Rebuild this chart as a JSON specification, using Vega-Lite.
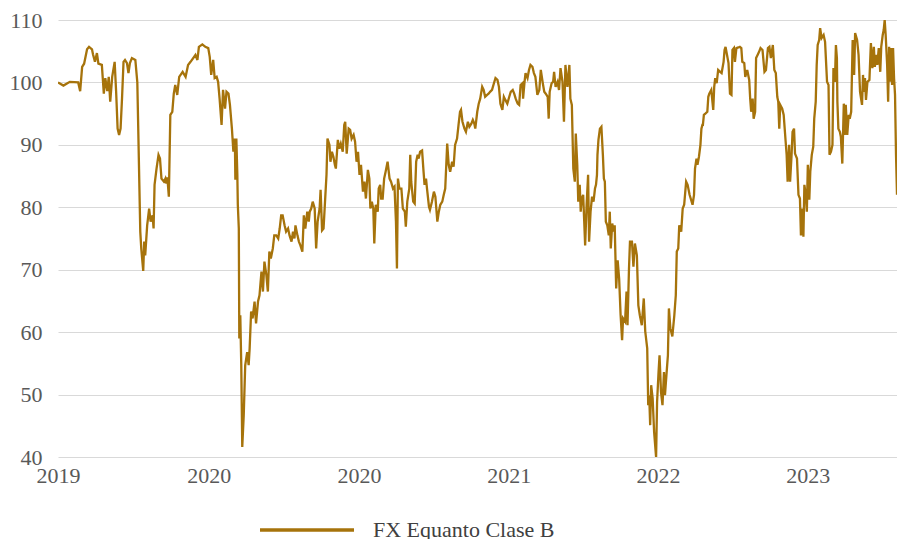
{
"$schema": "https://vega.github.io/schema/vega-lite/v6.json",
"autosize": {"type": "none"},
"width": 839,
"height": 437,
"padding": {"left": 58, "top": 20, "right": 0, "bottom": 82},
"background": "white",
"config": {"view": {"stroke": null}},
"data": {"values": [
{"d":"2019-03-01","v":100.0},{"d":"2019-03-12","v":99.5},{"d":"2019-03-25","v":100.1},{"d":"2019-04-11","v":100.0},{"d":"2019-04-15","v":98.6},{"d":"2019-04-19","v":102.5},{"d":"2019-04-23","v":103.0},{"d":"2019-04-29","v":105.3},{"d":"2019-05-03","v":105.7},{"d":"2019-05-09","v":105.3},{"d":"2019-05-11","v":104.5},{"d":"2019-05-15","v":103.3},{"d":"2019-05-19","v":104.7},{"d":"2019-05-22","v":103.0},{"d":"2019-05-29","v":102.8},
{"d":"2019-06-02","v":98.2},{"d":"2019-06-05","v":100.7},{"d":"2019-06-09","v":98.6},{"d":"2019-06-12","v":100.9},{"d":"2019-06-15","v":96.9},{"d":"2019-06-19","v":100.9},{"d":"2019-06-24","v":103.3},{"d":"2019-06-27","v":98.5},{"d":"2019-06-30","v":92.6},{"d":"2019-07-03","v":91.6},{"d":"2019-07-06","v":92.6},{"d":"2019-07-09","v":97.5},{"d":"2019-07-12","v":103.3},{"d":"2019-07-15","v":103.6},{"d":"2019-07-19","v":103.1},{"d":"2019-07-22","v":101.5},{"d":"2019-07-25","v":103.1},{"d":"2019-07-29","v":103.9},
{"d":"2019-08-05","v":103.6},{"d":"2019-08-09","v":100.0},{"d":"2019-08-11","v":92.1},{"d":"2019-08-13","v":84.1},{"d":"2019-08-15","v":76.1},{"d":"2019-08-17","v":73.4},{"d":"2019-08-21","v":69.8},{"d":"2019-08-23","v":74.5},{"d":"2019-08-25","v":72.3},{"d":"2019-08-29","v":77.1},{"d":"2019-09-02","v":79.8},{"d":"2019-09-05","v":77.7},{"d":"2019-09-09","v":78.7},{"d":"2019-09-11","v":76.6},{"d":"2019-09-13","v":83.6},{"d":"2019-09-17","v":86.2},{"d":"2019-09-21","v":88.4},{"d":"2019-09-24","v":87.8},{"d":"2019-09-27","v":84.6},
{"d":"2019-10-02","v":84.1},{"d":"2019-10-05","v":84.6},{"d":"2019-10-07","v":83.8},{"d":"2019-10-09","v":84.8},{"d":"2019-10-12","v":81.7},{"d":"2019-10-15","v":94.8},{"d":"2019-10-19","v":95.3},{"d":"2019-10-22","v":98.2},{"d":"2019-10-25","v":99.6},{"d":"2019-10-29","v":98.0},{"d":"2019-11-02","v":100.9},{"d":"2019-11-09","v":101.7},{"d":"2019-11-15","v":100.9},{"d":"2019-11-20","v":102.8},{"d":"2019-11-25","v":103.3},
{"d":"2019-12-05","v":104.4},{"d":"2019-12-09","v":103.6},{"d":"2019-12-12","v":105.7},{"d":"2019-12-19","v":106.1},{"d":"2019-12-25","v":105.7},{"d":"2019-12-31","v":105.5},{"d":"2020-01-03","v":104.1},{"d":"2020-01-06","v":101.2},{"d":"2020-01-10","v":103.6},{"d":"2020-01-13","v":100.7},{"d":"2020-01-17","v":100.9},{"d":"2020-01-20","v":100.1},{"d":"2020-01-23","v":97.4},{"d":"2020-01-27","v":93.2},{"d":"2020-01-30","v":98.8},
{"d":"2020-02-03","v":95.8},{"d":"2020-02-06","v":98.5},{"d":"2020-02-10","v":98.2},{"d":"2020-02-13","v":96.4},{"d":"2020-02-17","v":92.6},{"d":"2020-02-20","v":88.9},{"d":"2020-02-23","v":91.0},{"d":"2020-02-24","v":84.4},{"d":"2020-02-26","v":91.0},{"d":"2020-02-28","v":85.2},{"d":"2020-02-29","v":80.4},
{"d":"2020-03-02","v":76.6},{"d":"2020-03-03","v":59.0},{"d":"2020-03-05","v":62.7},{"d":"2020-03-07","v":54.7},{"d":"2020-03-09","v":41.6},{"d":"2020-03-12","v":46.7},{"d":"2020-03-15","v":54.7},{"d":"2020-03-19","v":56.8},{"d":"2020-03-22","v":54.7},{"d":"2020-03-24","v":57.4},{"d":"2020-03-27","v":63.3},{"d":"2020-03-30","v":62.2},
{"d":"2020-04-03","v":64.9},{"d":"2020-04-06","v":61.4},{"d":"2020-04-10","v":64.9},{"d":"2020-04-13","v":65.9},{"d":"2020-04-17","v":69.7},{"d":"2020-04-20","v":66.5},{"d":"2020-04-23","v":71.3},{"d":"2020-04-27","v":69.1},{"d":"2020-04-30","v":66.5},
{"d":"2020-05-03","v":72.9},{"d":"2020-05-06","v":71.8},{"d":"2020-05-10","v":73.4},{"d":"2020-05-13","v":75.5},{"d":"2020-05-17","v":75.5},{"d":"2020-05-21","v":75.0},{"d":"2020-05-24","v":76.6},{"d":"2020-05-27","v":78.7},{"d":"2020-05-30","v":78.7},
{"d":"2020-06-03","v":77.1},{"d":"2020-06-06","v":76.1},{"d":"2020-06-10","v":76.6},{"d":"2020-06-13","v":75.5},{"d":"2020-06-17","v":74.5},{"d":"2020-06-20","v":76.1},{"d":"2020-06-23","v":75.0},{"d":"2020-06-25","v":77.1},{"d":"2020-06-29","v":75.5},
{"d":"2020-07-02","v":74.5},{"d":"2020-07-05","v":73.9},{"d":"2020-07-09","v":72.9},{"d":"2020-07-12","v":78.7},{"d":"2020-07-15","v":76.6},{"d":"2020-07-19","v":79.3},{"d":"2020-07-22","v":77.7},{"d":"2020-07-24","v":79.3},{"d":"2020-07-27","v":79.8},{"d":"2020-07-30","v":80.9},
{"d":"2020-08-03","v":79.8},{"d":"2020-08-06","v":73.4},{"d":"2020-08-09","v":77.7},{"d":"2020-08-13","v":79.8},{"d":"2020-08-15","v":82.8},{"d":"2020-08-18","v":76.3},{"d":"2020-08-21","v":76.6},{"d":"2020-08-24","v":80.9},{"d":"2020-08-27","v":85.2},{"d":"2020-08-29","v":91.0},
{"d":"2020-09-02","v":90.0},{"d":"2020-09-04","v":87.3},{"d":"2020-09-07","v":88.9},{"d":"2020-09-10","v":88.1},{"d":"2020-09-13","v":86.8},{"d":"2020-09-15","v":86.2},{"d":"2020-09-19","v":90.8},{"d":"2020-09-22","v":89.4},{"d":"2020-09-25","v":90.2},{"d":"2020-09-29","v":88.9},
{"d":"2020-10-02","v":93.2},{"d":"2020-10-04","v":93.7},{"d":"2020-10-07","v":88.6},{"d":"2020-10-11","v":92.6},{"d":"2020-10-14","v":92.4},{"d":"2020-10-17","v":91.0},{"d":"2020-10-21","v":91.6},{"d":"2020-10-24","v":90.5},{"d":"2020-10-27","v":87.3},{"d":"2020-10-30","v":88.9},
{"d":"2020-11-02","v":85.2},{"d":"2020-11-05","v":86.8},{"d":"2020-11-09","v":82.5},{"d":"2020-11-12","v":84.1},{"d":"2020-11-15","v":81.4},{"d":"2020-11-19","v":86.0},{"d":"2020-11-22","v":84.6},{"d":"2020-11-24","v":79.8},{"d":"2020-11-27","v":80.9},{"d":"2020-11-30","v":79.8},
{"d":"2020-12-02","v":74.2},{"d":"2020-12-05","v":80.4},{"d":"2020-12-09","v":79.3},{"d":"2020-12-11","v":83.0},{"d":"2020-12-14","v":83.6},{"d":"2020-12-16","v":81.4},{"d":"2020-12-19","v":81.4},{"d":"2020-12-22","v":84.6},{"d":"2020-12-25","v":85.7},{"d":"2020-12-29","v":87.3},
{"d":"2021-01-02","v":84.6},{"d":"2021-01-05","v":84.1},{"d":"2021-01-09","v":83.0},{"d":"2021-01-12","v":83.3},{"d":"2021-01-15","v":77.7},{"d":"2021-01-17","v":70.2},{"d":"2021-01-19","v":84.6},{"d":"2021-01-22","v":83.0},{"d":"2021-01-26","v":83.0},{"d":"2021-01-29","v":79.8},
{"d":"2021-02-02","v":79.3},{"d":"2021-02-04","v":76.9},{"d":"2021-02-07","v":80.9},{"d":"2021-02-11","v":83.0},{"d":"2021-02-13","v":88.4},{"d":"2021-02-15","v":84.1},{"d":"2021-02-19","v":80.9},{"d":"2021-02-22","v":80.6},{"d":"2021-02-25","v":87.3},{"d":"2021-02-28","v":88.4},
{"d":"2021-03-02","v":87.8},{"d":"2021-03-05","v":88.9},{"d":"2021-03-09","v":89.1},{"d":"2021-03-12","v":85.7},{"d":"2021-03-14","v":83.6},{"d":"2021-03-17","v":84.6},{"d":"2021-03-19","v":83.0},{"d":"2021-03-23","v":80.1},{"d":"2021-03-25","v":79.6},{"d":"2021-03-29","v":80.9},
{"d":"2021-04-02","v":82.5},{"d":"2021-04-05","v":81.7},{"d":"2021-04-09","v":77.7},{"d":"2021-04-12","v":79.3},{"d":"2021-04-15","v":80.4},{"d":"2021-04-19","v":80.9},{"d":"2021-04-22","v":82.0},{"d":"2021-04-25","v":83.0},{"d":"2021-04-29","v":90.2},
{"d":"2021-05-02","v":86.8},{"d":"2021-05-05","v":85.7},{"d":"2021-05-09","v":87.3},{"d":"2021-05-12","v":86.5},{"d":"2021-05-15","v":90.0},{"d":"2021-05-19","v":91.0},{"d":"2021-05-22","v":93.2},{"d":"2021-05-25","v":95.3},{"d":"2021-05-27","v":95.6},{"d":"2021-05-30","v":93.7},
{"d":"2021-06-03","v":92.6},{"d":"2021-06-06","v":92.1},{"d":"2021-06-10","v":93.7},{"d":"2021-06-13","v":92.9},{"d":"2021-06-17","v":93.4},{"d":"2021-06-20","v":94.0},{"d":"2021-06-23","v":93.4},{"d":"2021-06-25","v":92.6},{"d":"2021-06-29","v":95.3},
{"d":"2021-07-02","v":96.6},{"d":"2021-07-05","v":97.4},{"d":"2021-07-09","v":99.3},{"d":"2021-07-12","v":98.8},{"d":"2021-07-15","v":97.7},{"d":"2021-07-19","v":98.0},{"d":"2021-07-22","v":98.2},{"d":"2021-07-25","v":98.5},{"d":"2021-07-29","v":98.8},
{"d":"2021-08-02","v":99.9},{"d":"2021-08-05","v":100.7},{"d":"2021-08-09","v":100.4},{"d":"2021-08-12","v":99.3},{"d":"2021-08-15","v":96.6},{"d":"2021-08-19","v":95.6},{"d":"2021-08-22","v":97.7},{"d":"2021-08-25","v":97.2},{"d":"2021-08-29","v":96.6},
{"d":"2021-09-02","v":97.7},{"d":"2021-09-05","v":98.5},{"d":"2021-09-09","v":98.8},{"d":"2021-09-12","v":98.2},{"d":"2021-09-15","v":97.4},{"d":"2021-09-19","v":96.6},{"d":"2021-09-22","v":96.4},{"d":"2021-09-25","v":99.6},{"d":"2021-09-29","v":99.9},{"d":"2021-09-30","v":97.4},
{"d":"2021-10-03","v":100.1},{"d":"2021-10-05","v":101.5},{"d":"2021-10-09","v":100.7},{"d":"2021-10-12","v":102.0},{"d":"2021-10-15","v":102.8},{"d":"2021-10-19","v":102.5},{"d":"2021-10-22","v":101.5},{"d":"2021-10-25","v":100.9},{"d":"2021-10-29","v":98.0},
{"d":"2021-11-02","v":98.8},{"d":"2021-11-05","v":102.0},{"d":"2021-11-09","v":99.9},{"d":"2021-11-12","v":98.5},{"d":"2021-11-15","v":98.2},{"d":"2021-11-19","v":97.7},{"d":"2021-11-21","v":94.2},{"d":"2021-11-23","v":98.5},{"d":"2021-11-27","v":99.9},{"d":"2021-11-30","v":100.1},
{"d":"2021-12-02","v":101.7},{"d":"2021-12-05","v":99.3},{"d":"2021-12-09","v":100.1},{"d":"2021-12-12","v":98.8},{"d":"2021-12-15","v":102.3},{"d":"2021-12-19","v":100.1},{"d":"2021-12-22","v":93.7},{"d":"2021-12-25","v":102.8},{"d":"2021-12-29","v":99.3},
{"d":"2022-01-02","v":102.8},{"d":"2022-01-04","v":97.4},{"d":"2022-01-07","v":96.4},{"d":"2022-01-10","v":86.2},{"d":"2022-01-13","v":84.1},{"d":"2022-01-15","v":91.8},{"d":"2022-01-18","v":86.8},{"d":"2022-01-20","v":80.9},{"d":"2022-01-23","v":83.6},{"d":"2022-01-25","v":79.3},{"d":"2022-01-27","v":81.4},{"d":"2022-01-30","v":82.0},
{"d":"2022-02-03","v":73.9},{"d":"2022-02-06","v":80.4},{"d":"2022-02-09","v":85.2},{"d":"2022-02-11","v":74.5},{"d":"2022-02-14","v":79.3},{"d":"2022-02-17","v":81.7},{"d":"2022-02-20","v":80.9},{"d":"2022-02-23","v":83.0},{"d":"2022-02-25","v":83.6},{"d":"2022-02-27","v":85.2},{"d":"2022-02-28","v":88.4},
{"d":"2022-03-02","v":90.8},{"d":"2022-03-05","v":92.6},{"d":"2022-03-08","v":92.9},{"d":"2022-03-11","v":88.4},{"d":"2022-03-13","v":84.6},{"d":"2022-03-15","v":84.1},{"d":"2022-03-17","v":77.7},{"d":"2022-03-20","v":77.1},{"d":"2022-03-23","v":75.5},{"d":"2022-03-25","v":79.3},{"d":"2022-03-27","v":73.4},{"d":"2022-03-30","v":77.4},
{"d":"2022-04-02","v":76.1},{"d":"2022-04-04","v":77.1},{"d":"2022-04-07","v":67.0},{"d":"2022-04-10","v":71.5},{"d":"2022-04-13","v":68.6},{"d":"2022-04-16","v":62.7},{"d":"2022-04-19","v":58.7},{"d":"2022-04-21","v":62.2},{"d":"2022-04-25","v":61.7},{"d":"2022-04-28","v":66.5},{"d":"2022-04-30","v":61.1},
{"d":"2022-05-03","v":70.2},{"d":"2022-05-05","v":74.5},{"d":"2022-05-09","v":74.5},{"d":"2022-05-12","v":70.5},{"d":"2022-05-15","v":74.2},{"d":"2022-05-19","v":72.3},{"d":"2022-05-22","v":64.3},{"d":"2022-05-25","v":62.7},{"d":"2022-05-29","v":61.1},
{"d":"2022-06-02","v":65.4},{"d":"2022-06-05","v":60.1},{"d":"2022-06-09","v":57.4},{"d":"2022-06-11","v":48.3},{"d":"2022-06-13","v":49.9},{"d":"2022-06-15","v":45.1},{"d":"2022-06-17","v":51.5},{"d":"2022-06-20","v":49.4},{"d":"2022-06-23","v":44.0},{"d":"2022-06-27","v":40.0},{"d":"2022-06-29","v":48.8},
{"d":"2022-07-02","v":53.6},{"d":"2022-07-04","v":56.3},{"d":"2022-07-07","v":50.4},{"d":"2022-07-10","v":48.3},{"d":"2022-07-13","v":53.6},{"d":"2022-07-15","v":49.9},{"d":"2022-07-19","v":54.2},{"d":"2022-07-21","v":56.3},{"d":"2022-07-23","v":63.8},{"d":"2022-07-26","v":60.6},{"d":"2022-07-30","v":59.3},
{"d":"2022-08-03","v":62.7},{"d":"2022-08-06","v":65.9},{"d":"2022-08-08","v":72.9},{"d":"2022-08-11","v":73.4},{"d":"2022-08-13","v":77.1},{"d":"2022-08-17","v":76.1},{"d":"2022-08-20","v":79.8},{"d":"2022-08-23","v":80.4},{"d":"2022-08-27","v":84.1},{"d":"2022-08-30","v":83.6},
{"d":"2022-09-03","v":82.0},{"d":"2022-09-06","v":81.2},{"d":"2022-09-09","v":80.4},{"d":"2022-09-12","v":82.0},{"d":"2022-09-14","v":86.2},{"d":"2022-09-17","v":87.8},{"d":"2022-09-19","v":86.8},{"d":"2022-09-22","v":88.1},{"d":"2022-09-25","v":90.0},{"d":"2022-09-27","v":92.6},{"d":"2022-09-29","v":93.2},{"d":"2022-09-30","v":93.2},
{"d":"2022-10-02","v":94.8},{"d":"2022-10-05","v":95.0},{"d":"2022-10-09","v":95.3},{"d":"2022-10-11","v":97.7},{"d":"2022-10-13","v":98.2},{"d":"2022-10-17","v":98.8},{"d":"2022-10-19","v":97.2},{"d":"2022-10-21","v":95.6},{"d":"2022-10-23","v":99.3},{"d":"2022-10-25","v":100.7},{"d":"2022-10-28","v":99.9},{"d":"2022-10-31","v":102.0},
{"d":"2022-11-04","v":101.7},{"d":"2022-11-07","v":101.5},{"d":"2022-11-11","v":103.3},{"d":"2022-11-13","v":105.2},{"d":"2022-11-15","v":105.7},{"d":"2022-11-18","v":104.4},{"d":"2022-11-21","v":103.1},{"d":"2022-11-24","v":98.2},{"d":"2022-11-27","v":98.0},{"d":"2022-11-29","v":105.2},
{"d":"2022-12-02","v":105.5},{"d":"2022-12-04","v":103.3},{"d":"2022-12-07","v":105.5},{"d":"2022-12-11","v":105.6},{"d":"2022-12-14","v":105.7},{"d":"2022-12-17","v":105.5},{"d":"2022-12-19","v":103.3},{"d":"2022-12-23","v":103.1},{"d":"2022-12-25","v":100.9},{"d":"2022-12-29","v":102.0},
{"d":"2023-01-02","v":100.4},{"d":"2023-01-04","v":97.4},{"d":"2023-01-06","v":95.3},{"d":"2023-01-09","v":97.4},{"d":"2023-01-11","v":94.2},{"d":"2023-01-14","v":95.3},{"d":"2023-01-16","v":103.9},{"d":"2023-01-19","v":104.4},{"d":"2023-01-22","v":104.9},{"d":"2023-01-25","v":105.5},{"d":"2023-01-29","v":105.2},
{"d":"2023-02-02","v":101.7},{"d":"2023-02-05","v":102.0},{"d":"2023-02-09","v":105.5},{"d":"2023-02-12","v":105.7},{"d":"2023-02-15","v":103.9},{"d":"2023-02-19","v":106.0},{"d":"2023-02-22","v":102.0},{"d":"2023-02-25","v":101.5},{"d":"2023-02-28","v":97.7},
{"d":"2023-03-02","v":96.9},{"d":"2023-03-04","v":92.6},{"d":"2023-03-06","v":96.4},{"d":"2023-03-10","v":95.8},{"d":"2023-03-13","v":94.8},{"d":"2023-03-17","v":90.5},{"d":"2023-03-19","v":88.4},{"d":"2023-03-21","v":84.1},{"d":"2023-03-24","v":90.0},{"d":"2023-03-26","v":84.1},{"d":"2023-03-29","v":88.4},{"d":"2023-03-31","v":92.1},
{"d":"2023-04-03","v":92.6},{"d":"2023-04-05","v":88.6},{"d":"2023-04-09","v":87.8},{"d":"2023-04-12","v":82.0},{"d":"2023-04-15","v":81.4},{"d":"2023-04-17","v":75.5},{"d":"2023-04-20","v":79.8},{"d":"2023-04-22","v":75.3},{"d":"2023-04-24","v":83.6},{"d":"2023-04-27","v":82.0},{"d":"2023-04-29","v":79.3},
{"d":"2023-05-01","v":86.8},{"d":"2023-05-04","v":81.2},{"d":"2023-05-06","v":85.7},{"d":"2023-05-09","v":88.4},{"d":"2023-05-12","v":89.7},{"d":"2023-05-14","v":94.2},{"d":"2023-05-17","v":96.9},{"d":"2023-05-19","v":102.8},{"d":"2023-05-21","v":106.0},{"d":"2023-05-24","v":106.8},{"d":"2023-05-26","v":108.7},{"d":"2023-05-29","v":107.1},
{"d":"2023-06-02","v":107.6},{"d":"2023-06-05","v":106.5},{"d":"2023-06-09","v":100.1},{"d":"2023-06-12","v":99.6},{"d":"2023-06-14","v":88.4},{"d":"2023-06-17","v":88.9},{"d":"2023-06-20","v":90.0},{"d":"2023-06-22","v":102.3},{"d":"2023-06-25","v":100.1},{"d":"2023-06-27","v":106.0},{"d":"2023-06-29","v":103.9},{"d":"2023-06-30","v":96.9},
{"d":"2023-07-02","v":92.6},{"d":"2023-07-05","v":92.1},{"d":"2023-07-07","v":91.3},{"d":"2023-07-10","v":87.0},{"d":"2023-07-13","v":96.6},{"d":"2023-07-15","v":91.6},{"d":"2023-07-17","v":96.4},{"d":"2023-07-20","v":91.6},{"d":"2023-07-23","v":94.8},{"d":"2023-07-25","v":94.2},{"d":"2023-07-28","v":95.3},{"d":"2023-07-31","v":106.8},
{"d":"2023-08-03","v":101.2},{"d":"2023-08-05","v":107.9},{"d":"2023-08-09","v":106.8},{"d":"2023-08-12","v":104.4},{"d":"2023-08-15","v":98.5},{"d":"2023-08-19","v":96.4},{"d":"2023-08-21","v":101.2},{"d":"2023-08-23","v":98.5},{"d":"2023-08-25","v":100.7},{"d":"2023-08-27","v":97.2},{"d":"2023-08-30","v":100.1},
{"d":"2023-09-03","v":100.4},{"d":"2023-09-06","v":106.3},{"d":"2023-09-09","v":102.3},{"d":"2023-09-12","v":105.7},{"d":"2023-09-14","v":102.5},{"d":"2023-09-17","v":104.4},{"d":"2023-09-19","v":102.8},{"d":"2023-09-22","v":105.5},{"d":"2023-09-25","v":101.7},{"d":"2023-09-27","v":105.7},{"d":"2023-09-30","v":107.6},
{"d":"2023-10-02","v":108.4},{"d":"2023-10-04","v":110.0},{"d":"2023-10-06","v":107.6},{"d":"2023-10-09","v":102.8},{"d":"2023-10-11","v":96.9},{"d":"2023-10-13","v":105.7},{"d":"2023-10-15","v":100.1},{"d":"2023-10-17","v":105.5},{"d":"2023-10-19","v":99.6},{"d":"2023-10-21","v":105.5},{"d":"2023-10-23","v":100.7},{"d":"2023-10-25","v":98.0},{"d":"2023-10-27","v":88.4},{"d":"2023-10-29","v":82.0}
]},
"mark": {"type": "line", "strokeWidth": 2.3, "clip": true},
"encoding": {
  "x": {"field": "d", "type": "temporal", "title": null,
    "scale": {"domain": [{"year": 2019, "month": 3, "date": 1}, {"year": 2023, "month": 10, "date": 29}]},
    "axis": {"values": [{"year": 2019, "month": 3, "date": 1}, {"year": 2020, "month": 1, "date": 1}, {"year": 2020, "month": 11, "date": 1}, {"year": 2021, "month": 9, "date": 1}, {"year": 2022, "month": 7, "date": 1}, {"year": 2023, "month": 5, "date": 1}],
      "format": "%Y", "grid": false, "domain": false, "ticks": false, "labelFlush": false, "labelOverlap": false,
      "labelPadding": 8, "labelFont": "Liberation Serif", "labelFontSize": 22, "labelColor": "#595959"}},
  "y": {"field": "v", "type": "quantitative", "title": null,
    "scale": {"domain": [40, 110], "nice": false, "zero": false},
    "axis": {"values": [40, 50, 60, 70, 80, 90, 100, 110], "domain": false, "ticks": false, "grid": true, "gridColor": "#d9d9d9", "gridWidth": 1,
      "labelPadding": 16, "labelFont": "Liberation Serif", "labelFontSize": 22, "labelColor": "#595959"}},
  "color": {"datum": "FX Equanto Clase B", "type": "nominal", "scale": {"range": ["#a6730b"]},
    "legend": {"title": null, "orient": "none", "legendX": 200, "legendY": 461, "symbolType": "stroke", "symbolSize": 8836, "symbolStrokeWidth": 3.5,
      "labelFont": "Liberation Serif", "labelFontSize": 22, "labelColor": "#404040", "labelOffset": 17, "labelLimit": 0}}
}
}
